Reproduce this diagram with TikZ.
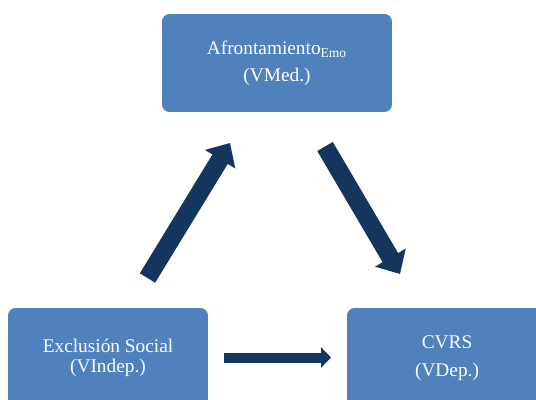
\documentclass[tikz,border=0pt]{standalone}
\usepackage{fontspec}
\setmainfont{Liberation Serif}
\usetikzlibrary{arrows.meta}
\definecolor{BoxBlue}{RGB}{79,129,189}
\definecolor{ArrowNavy}{RGB}{20,54,94}

\begin{document}
\begin{tikzpicture}[x=0.02cm, y=-0.02cm,
  varbox/.style={fill=BoxBlue, rounded corners=0.15cm, text=white, align=center, inner sep=0pt, font=\fontsize{11}{15.5}\selectfont},
  bigarrow/.style={ArrowNavy, line width=0.36cm, -{Triangle[length=0.38cm, width=0.69cm]}},
  smallarrow/.style={ArrowNavy, line width=0.2cm, -{Triangle[length=0.2cm, width=0.4cm]}}]
\clip (0,0) rectangle (536,399);
\node[varbox, minimum width=4.6cm, minimum height=1.96cm] (med) at (277,63) {Afrontamiento\textsubscript{Emo}\\(VMed.)};
\node[varbox, minimum width=4cm, minimum height=2cm, font=\fontsize{11}{11.5}\selectfont] (indep) at (108,358) {Exclusión Social\\(VIndep.)};
\node[varbox, minimum width=4cm, minimum height=2cm, font=\fontsize{11}{16}\selectfont] (dep) at (447,358) {CVRS\\(VDep.)};
% arrows float between the boxes
\coordinate (upTail) at (147.5,278);
\coordinate (upTip) at (230,143);
\coordinate (downTail) at (325,146.5);
\coordinate (downTip) at (400,274);
\coordinate (midTail) at (224,357.5);
\coordinate (midTip) at (331,357.5);
\draw[bigarrow] (upTail) -- (upTip);
\draw[bigarrow] (downTail) -- (downTip);
\draw[smallarrow] (midTail) -- (midTip);
\end{tikzpicture}
\end{document}
